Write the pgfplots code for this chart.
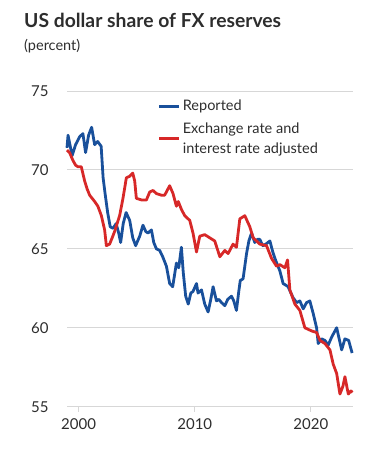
\documentclass[border=0pt]{standalone}
\usepackage{pgfplots}
\pgfplotsset{compat=1.18}
\usepackage{fontspec}
\setmainfont{Lato}
\definecolor{cblue}{RGB}{25,80,155}
\definecolor{cred}{RGB}{215,40,40}
\definecolor{cgrid}{RGB}{215,215,215}
\definecolor{ctext}{RGB}{45,45,45}
\begin{document}
\begin{tikzpicture}[x=1pt,y=1pt]
\path[use as bounding box] (0,0) rectangle (364,457);
\begin{axis}[
  at={(67pt,50.3pt)}, anchor=south west,
  scale only axis, width=285.7pt, height=315.7pt,
  xmin=1999, xmax=2023.6, ymin=55, ymax=75,
  xtick={2000,2010,2020}, ytick={55,60,65,70,75},
  axis x line*=bottom, axis y line*=left,
  x axis line style={draw=cgrid, line width=0.9pt, -},
  y axis line style={draw=none},
  xtick align=outside, major tick length=5pt,
  x tick style={draw=cgrid, line width=0.9pt},
  y tick style={draw=none},
  ymajorgrids, grid style={draw=cgrid, line width=0.9pt},
  /pgf/number format/assume math mode=true,
  /pgf/number format/1000 sep={},
  tick label style={font=\fontsize{15}{18}\selectfont, text=ctext},
  yticklabel style={xshift=-15pt},
  xticklabel style={yshift=-3pt},
  legend style={at={(0.318,0.978)}, anchor=north west, draw=none, fill=none,
    font=\fontsize{14.5}{20}\selectfont, text=ctext,
    cells={anchor=west, align=left}, row sep=6pt, inner sep=0pt},
  legend image code/.code={\draw[#1, line width=2.8pt] (0pt,0pt) -- (20pt,0pt);},
  clip=false,
]
\addplot[cblue, line width=2.8pt, line join=round] coordinates {
(1999.00,71.4) (1999.09,72.2) (1999.44,70.9) (1999.74,71.6) (2000.09,72.1) (2000.37,72.3)
(2000.60,71.1) (2000.86,72.2) (2001.12,72.7) (2001.38,71.6) (2001.64,71.8) (2001.94,71.5)
(2002.11,69.5) (2002.28,68.5) (2002.50,67.3) (2002.72,66.4) (2002.97,66.3) (2003.23,66.6)
(2003.45,66.0) (2003.62,65.4) (2003.84,66.6) (2004.09,67.3) (2004.40,66.8) (2004.66,65.7)
(2004.91,65.2) (2005.26,65.8) (2005.54,66.5) (2005.78,66.1) (2005.97,66.0) (2006.27,66.2)
(2006.47,65.4) (2006.70,65.0) (2006.98,64.9) (2007.24,64.5) (2007.56,63.9) (2007.84,62.8)
(2008.10,62.6) (2008.42,64.1) (2008.62,63.8) (2008.85,65.1) (2009.01,63.5) (2009.22,62.0)
(2009.44,61.5) (2009.66,62.2) (2009.85,62.3) (2010.15,62.8) (2010.28,62.2) (2010.58,62.4)
(2010.86,61.5) (2011.15,61.0) (2011.38,61.8) (2011.58,62.6) (2011.87,61.7) (2012.07,61.8)
(2012.30,61.6) (2012.59,61.4) (2012.84,61.8) (2013.16,62.0) (2013.36,61.7) (2013.59,61.1)
(2013.79,62.3) (2013.92,63.0) (2014.16,63.1) (2014.46,64.7) (2014.66,65.5) (2014.89,66.0)
(2015.17,65.4) (2015.39,65.6) (2015.60,65.6) (2015.86,65.2) (2016.12,65.3) (2016.47,65.5)
(2016.72,64.8) (2016.90,64.4) (2017.11,64.0) (2017.33,63.6) (2017.61,62.8) (2017.84,62.7)
(2018.04,62.6) (2018.28,62.2) (2018.47,61.9) (2018.77,61.6) (2019.05,61.7) (2019.34,61.2)
(2019.63,61.6) (2019.91,61.7) (2020.20,60.9) (2020.49,60.0) (2020.63,59.0) (2020.92,59.3)
(2021.21,59.2) (2021.49,58.9) (2021.78,59.4) (2022.22,60.0) (2022.65,58.6) (2022.93,59.3)
(2023.25,59.2) (2023.55,58.4)
};
\addlegendentry{Reported}
\addplot[cred, line width=2.8pt, line join=round] coordinates {
(1999.00,71.25) (1999.22,71.1) (1999.51,70.6) (1999.74,70.3) (1999.94,70.2) (2000.23,70.2)
(2000.52,69.3) (2000.73,68.8) (2000.95,68.4) (2001.38,68.0) (2001.66,67.7) (2001.96,67.1)
(2002.24,66.2) (2002.39,65.2) (2002.67,65.3) (2002.89,65.7) (2003.10,66.1) (2003.53,67.1)
(2003.82,68.2) (2004.11,69.5) (2004.40,69.6) (2004.66,69.8) (2004.83,69.3) (2004.97,68.2)
(2005.41,68.1) (2005.84,68.1) (2006.12,68.6) (2006.41,68.7) (2006.70,68.5) (2007.13,68.4)
(2007.41,68.4) (2007.84,69.0) (2008.13,68.5) (2008.42,67.7) (2008.58,68.0) (2008.85,67.5)
(2009.14,67.1) (2009.57,66.8) (2009.85,66.0) (2010.15,64.8) (2010.43,65.8) (2010.86,65.9)
(2011.29,65.7) (2011.72,65.5) (2012.16,64.5) (2012.59,64.9) (2012.87,64.7) (2013.30,65.3)
(2013.59,65.1) (2013.88,66.9) (2014.31,67.1) (2014.74,66.4) (2015.03,65.7) (2015.60,65.3)
(2016.18,65.2) (2016.61,64.4) (2017.04,63.9) (2017.33,64.0) (2017.76,63.8) (2017.99,64.3)
(2018.19,62.4) (2018.62,61.5) (2019.05,61.1) (2019.48,60.0) (2020.06,59.8) (2020.49,59.7)
(2020.78,59.2) (2021.21,59.0) (2021.64,58.6) (2021.92,57.7) (2022.22,57.1) (2022.50,55.8)
(2022.76,56.3) (2022.93,56.9) (2023.22,55.8) (2023.45,56.0) (2023.58,55.9)
};
\addlegendentry{Exchange rate and\\interest rate adjusted}
\end{axis}
\node[anchor=base west, inner sep=0pt, text=ctext] at (24,429.5) {\fontsize{19.3}{22}\selectfont\bfseries US dollar share of FX reserves};
\node[anchor=base west, inner sep=0pt, text=ctext] at (24,406) {\fontsize{14.5}{18}\selectfont (percent)};
\end{tikzpicture}
\end{document}
